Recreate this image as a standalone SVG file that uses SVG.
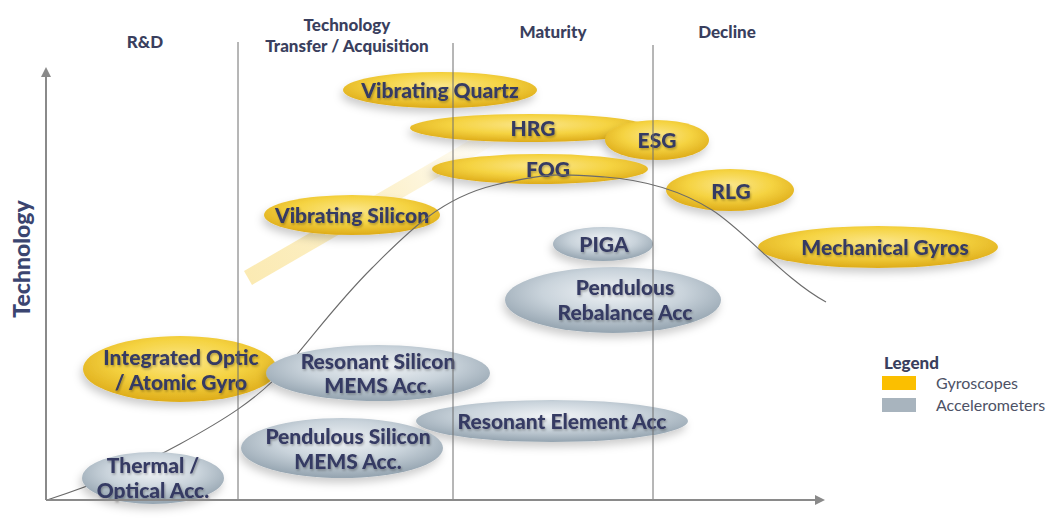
<svg xmlns="http://www.w3.org/2000/svg" width="1053" height="520" viewBox="0 0 1053 520">
<defs>
<radialGradient id="gold" cx="50%" cy="38%" r="60%">
<stop offset="0" stop-color="#fbe68a"/>
<stop offset="0.55" stop-color="#f5d341"/>
<stop offset="1" stop-color="#dfae1c"/>
</radialGradient>
<radialGradient id="gray" cx="50%" cy="38%" r="60%">
<stop offset="0" stop-color="#f1f4f7"/>
<stop offset="0.55" stop-color="#c9d3db"/>
<stop offset="1" stop-color="#97a6b2"/>
</radialGradient>
<linearGradient id="band" x1="245" y1="280" x2="500" y2="130" gradientUnits="userSpaceOnUse">
<stop offset="0" stop-color="#f7d565" stop-opacity="0.5"/>
<stop offset="0.6" stop-color="#f7d565" stop-opacity="0.3"/>
<stop offset="1" stop-color="#f7d565" stop-opacity="0"/>
</linearGradient>
<filter id="sh" x="-20%" y="-40%" width="140%" height="190%">
<feDropShadow dx="-2" dy="5" stdDeviation="4" flood-color="#000" flood-opacity="0.2"/>
</filter>
<filter id="tsh" x="-10%" y="-20%" width="120%" height="150%">
<feDropShadow dx="1" dy="1.5" stdDeviation="0.8" flood-color="#000" flood-opacity="0.3"/>
</filter>
<marker id="arr" viewBox="0 0 10 10" refX="5" refY="5" markerWidth="5" markerHeight="5" orient="auto">
<path d="M0,0 L10,5 L0,10 z" fill="#8a8a8a"/>
</marker>
<style>
.hdr{font-family:Lato,"Open Sans",sans-serif;font-weight:900;font-size:17px;fill:#3a3f5e;text-anchor:middle}
.g{fill:url(#gold);filter:url(#sh)}
.a{fill:url(#gray);filter:url(#sh)}
.t{font-family:Lato,"Open Sans",sans-serif;font-weight:900;font-size:21px;fill:#363a63;text-anchor:middle;filter:url(#tsh)}
.vl{stroke:#6f6f6f;stroke-width:1}
.ax{stroke:#8a8a8a;stroke-width:2;fill:none}
.lg{font-family:Lato,"Open Sans",sans-serif;font-size:16px;fill:#4d5266}
</style>
</defs>
<rect width="1053" height="520" fill="#ffffff"/>

<g id="headers">
<text class="hdr" x="145" y="48">R&amp;D</text>
<text class="hdr" x="347" y="31">Technology</text>
<text class="hdr" x="347" y="52">Transfer / Acquisition</text>
<text class="hdr" x="553" y="38">Maturity</text>
<text class="hdr" x="727" y="38">Decline</text>
<text x="30" y="259" transform="rotate(-90 30 259)" style="font-family:Lato,'Open Sans',sans-serif;font-weight:900;font-size:23px;fill:#3b4570;text-anchor:middle">Technology</text>
</g>

<line id="trend-band" x1="248" y1="278" x2="500" y2="132" stroke="url(#band)" stroke-width="16"/>

<g id="node-vibrating-quartz"><ellipse class="g" cx="440" cy="90" rx="97" ry="18"/><text class="t" x="440" y="98">Vibrating Quartz</text></g>
<g id="node-hrg"><ellipse class="g" cx="530" cy="128" rx="120" ry="14"/><text class="t" x="533" y="136">HRG</text></g>
<g id="node-esg"><ellipse class="g" cx="657" cy="140" rx="52" ry="20"/><text class="t" x="657" y="148">ESG</text></g>
<g id="node-fog"><ellipse class="g" cx="540" cy="169" rx="108" ry="15"/><text class="t" x="548" y="177">FOG</text></g>
<g id="node-rlg"><ellipse class="g" cx="730" cy="190" rx="64" ry="21"/><text class="t" x="731" y="199">RLG</text></g>
<g id="node-vibrating-silicon"><ellipse class="g" cx="352" cy="215" rx="88" ry="20"/><text class="t" x="352" y="223">Vibrating Silicon</text></g>
<g id="node-mechanical-gyros"><ellipse class="g" cx="878" cy="247" rx="120" ry="21"/><text class="t" x="885" y="255">Mechanical Gyros</text></g>
<g id="node-integrated-optic"><ellipse class="g" cx="180" cy="369" rx="97" ry="33"/><text class="t" x="181" y="365">Integrated Optic</text><text class="t" x="181" y="390">/ Atomic Gyro</text></g>

<g id="connectors">
<path d="M47,500 C90,486 140,466 180,444 S258,400 288,365 S338,302 372,268 S440,198 495,185 S565,174 605,177 S680,190 712,210 S785,280 826,302" fill="none" stroke="#6b6b6b" stroke-width="1.1"/>
</g>

<g id="node-piga"><ellipse class="a" cx="603" cy="244" rx="50" ry="17"/><text class="t" x="604" y="252">PIGA</text></g>
<g id="node-pendulous-rebalance"><ellipse class="a" cx="613" cy="300" rx="108" ry="33"/><text class="t" x="625" y="295">Pendulous</text><text class="t" x="625" y="320">Rebalance Acc</text></g>
<g id="node-resonant-silicon"><ellipse class="a" cx="378" cy="373" rx="112" ry="28"/><text class="t" x="378" y="369">Resonant Silicon</text><text class="t" x="378" y="393">MEMS Acc.</text></g>
<g id="node-resonant-element"><ellipse class="a" cx="552" cy="421" rx="136" ry="21"/><text class="t" x="562" y="429">Resonant Element Acc</text></g>
<g id="node-pendulous-silicon"><ellipse class="a" cx="342" cy="448" rx="101" ry="30"/><text class="t" x="348" y="444">Pendulous Silicon</text><text class="t" x="348" y="469">MEMS Acc.</text></g>
<g id="node-thermal-optical"><ellipse class="a" cx="153" cy="478" rx="71" ry="26"/><text class="t" x="153" y="473">Thermal /</text><text class="t" x="153" y="498">Optical Acc.</text></g>

<g id="phase-lines">
<line class="vl" x1="238" y1="42" x2="238" y2="500"/>
<line class="vl" x1="453" y1="43" x2="453" y2="500"/>
<line class="vl" x1="653" y1="45" x2="653" y2="500"/>
</g>

<g id="axes">
<line class="ax" x1="46" y1="500" x2="46" y2="72" marker-end="url(#arr)"/>
<line class="ax" x1="46" y1="500" x2="820" y2="500" marker-end="url(#arr)"/>
</g>

<g id="legend">
<text x="884" y="369" style="font-family:Lato,'Open Sans',sans-serif;font-weight:900;font-size:17px;fill:#3a3f5e">Legend</text>
<rect x="882" y="376" width="34" height="14" fill="#fbbf00"/>
<rect x="882" y="398" width="34" height="14" fill="#a8b4be"/>
<text class="lg" x="936" y="389">Gyroscopes</text>
<text class="lg" x="936" y="411">Accelerometers</text>
</g>
</svg>
